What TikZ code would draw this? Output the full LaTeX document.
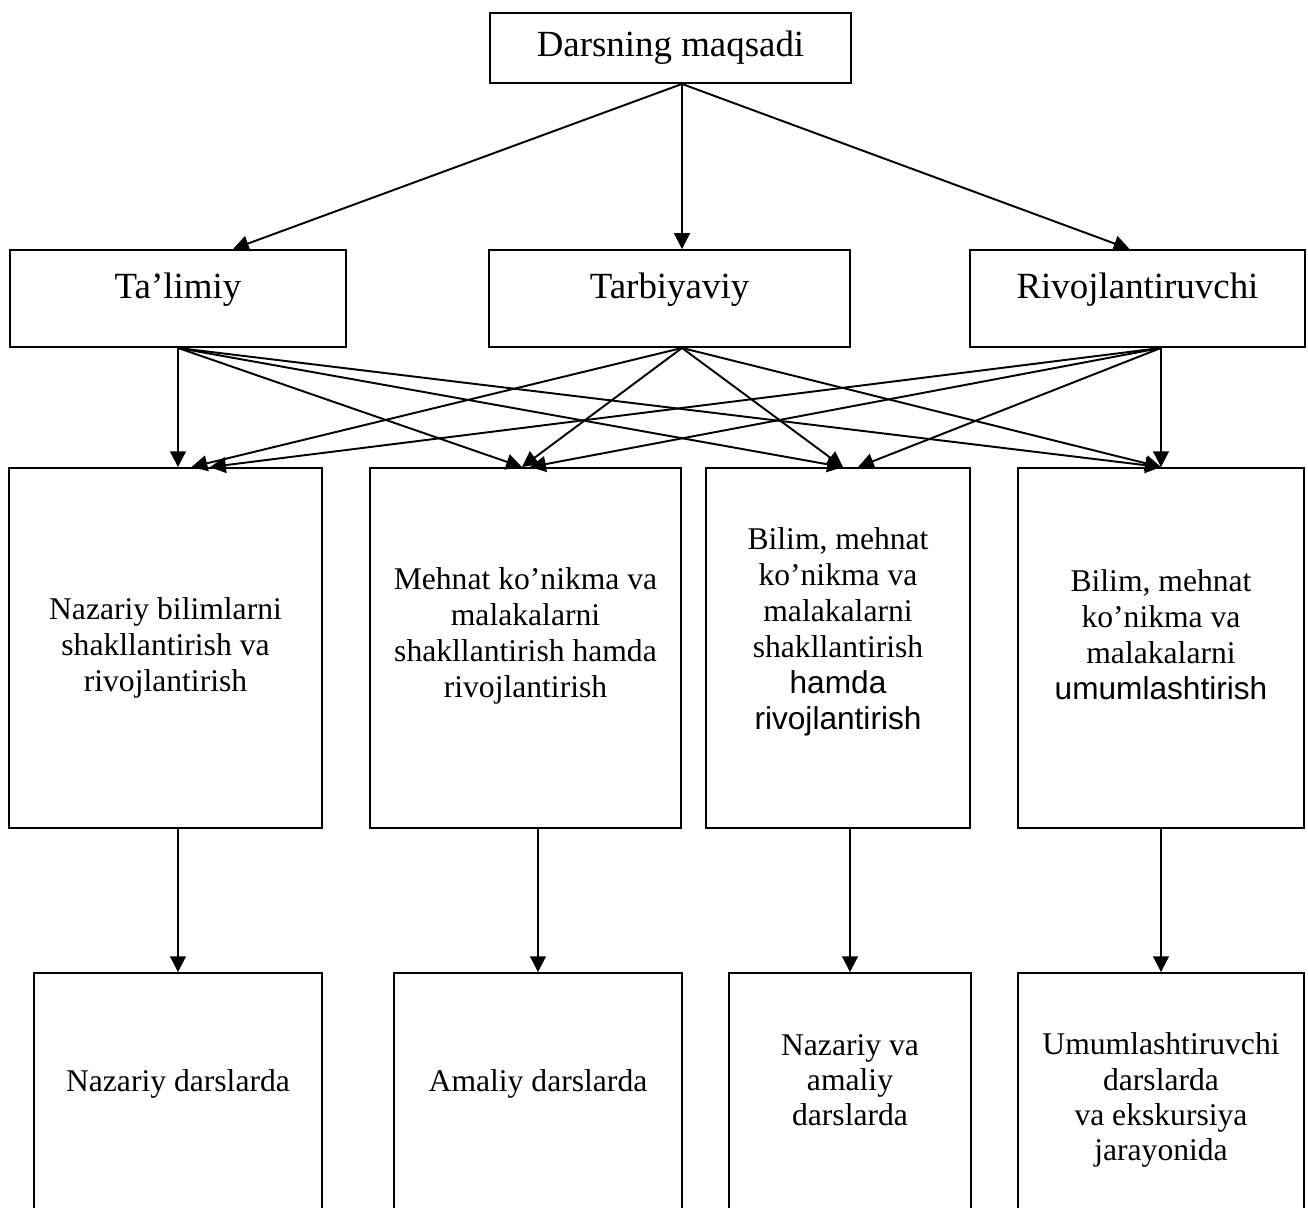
\documentclass[tikz,border=0pt]{standalone}
\usepackage{fontspec}
\setmainfont{Liberation Serif}
\newfontfamily\arialfont{Liberation Sans}
\usetikzlibrary{arrows.meta,calc}
\def\pushup#1{\rule[-#1]{0pt}{#1}}
\tikzset{
	box/.style={draw, line width=1.1pt, align=center, inner sep=0pt},
	head/.style={box, font=\fontsize{21}{24}\selectfont, text height=14.7pt, text depth=14.7pt},
	aim/.style={box, font=\fontsize{18}{20.5}\selectfont},
	lesson/.style={align=center, inner sep=0pt, font=\fontsize{18}{20}\selectfont},
	arr/.style={line width=1.1pt, -{Triangle[length=9pt,width=9pt]}}
}

\begin{document}
\begin{tikzpicture}[x=0.02cm, y=-0.02cm]
			%%%%% START %%%%%
			\useasboundingbox (0, 0) rectangle (1308, 1207);
			\clip (0, 0) rectangle (1308, 1207);
			
			\node[box, font=\fontsize{21}{24}\selectfont, minimum width=7.22cm, minimum height=1.40cm] (maqsad) at (670.5, 48) {Darsning maqsadi};
			
			\node[head, minimum width=6.72cm, minimum height=1.94cm] (talim) at (178, 298.5) {Ta’limiy};
			\node[head, minimum width=7.22cm, minimum height=1.94cm] (tarb) at (669.5, 298.5) {Tarbiyaviy};
			\node[head, minimum width=6.70cm, minimum height=1.94cm] (rivoj) at (1137.5, 298.5) {Rivojlantiruvchi};
			
			\node[aim, minimum width=6.26cm, minimum height=7.20cm] (midA) at (165.5, 648) {Nazariy bilimlarni\\shakllantirish va\\rivojlantirish};
			\node[aim, minimum width=6.22cm, minimum height=7.20cm] (midB) at (525.5, 648) {Mehnat ko’nikma va\\malakalarni\\shakllantirish hamda\\rivojlantirish\pushup{18pt}};
			\node[aim, minimum width=5.28cm, minimum height=7.20cm] (midC) at (838, 648) {Bilim, mehnat\\ko’nikma va\\malakalarni\\shakllantirish\\{\arialfont hamda}\\{\arialfont rivojlantirish}\pushup{22pt}};
			\node[aim, minimum width=5.72cm, minimum height=7.20cm] (midD) at (1161, 648) {Bilim, mehnat\\ko’nikma va\\malakalarni\\{\arialfont umumlashtirish}\pushup{15pt}};
			
			% the lowest boxes run past the bottom edge
			\node[box, minimum width=5.76cm, minimum height=6.40cm] (lowA) at (178, 1133) {};
			\node[box, minimum width=5.76cm, minimum height=6.40cm] (lowB) at (538, 1133) {};
			\node[box, minimum width=4.84cm, minimum height=6.40cm] (lowC) at (850, 1133) {};
			\node[box, minimum width=5.72cm, minimum height=6.40cm] (lowD) at (1161, 1133) {};
			\node[lesson] (txtA) at (178, 1084) {Nazariy darslarda};
			\node[lesson] (txtB) at (538, 1084) {Amaliy darslarda};
			\node[lesson] (txtC) at (850, 1080) {Nazariy va\\amaliy\\darslarda};
			\node[lesson] (txtD) at (1161, 1100) {Umumlashtiruvchi\\darslarda\\va ekskursiya\\jarayonida};
			
			% goal -> three kinds
			\coordinate (top) at ($(maqsad.south)+(11.5, 0)$);
			\draw[arr] (top) -- ($(talim.north)+(55, 0)$);
			\draw[arr] (top) -- (top |- tarb.north);
			\draw[arr] (top) -- ($(rivoj.north)+(-8, 0)$);
			
			% kinds -> aims
			\coordinate (t1) at (talim.south);
			\coordinate (t2) at ($(tarb.south)+(12.5, 0)$);
			\coordinate (t3) at (rivoj.south -| midD.north);
			
			\draw[arr] (t1) -- (t1 |- midA.north);
			\draw[arr] (t2) -- ($(midA.north)+(26, 0)$);
			\draw[arr] (t3) -- ($(midA.north)+(44.5, 0)$);
			
			\draw[arr] (t1) -- ($(midB.north)+(-3.5, 0)$);
			\draw[arr] (t2) -- ($(midB.north)+(-3.5, 0)$);
			\draw[arr] (t3) -- ($(midB.north)+(4.5, 0)$);
			
			\draw[arr] (t1) -- ($(midC.north)+(5, 0)$);
			\draw[arr] (t2) -- ($(midC.north)+(5, 0)$);
			\draw[arr] (t3) -- ($(midC.north)+(20, 0)$);
			
			\draw[arr] (t1) -- (midD.north);
			\draw[arr] (t2) -- (midD.north);
			\draw[arr] (t3) -- (midD.north);
			
			% aims -> lessons
			\draw[arr] (midA.south -| lowA.north) -- (lowA.north);
			\draw[arr] (midB.south -| lowB.north) -- (lowB.north);
			\draw[arr] (midC.south -| lowC.north) -- (lowC.north);
			\draw[arr] (midD.south -| lowD.north) -- (lowD.north);
			%%%%% END %%%%%
\end{tikzpicture}
\end{document}
